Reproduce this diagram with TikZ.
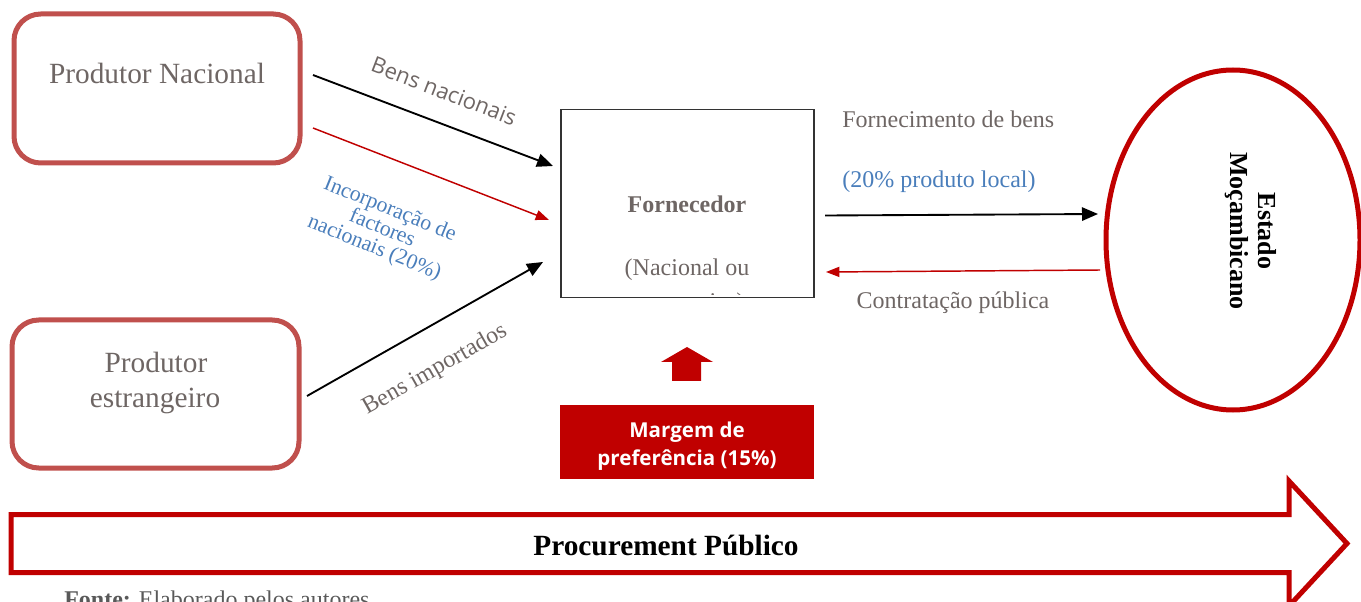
\documentclass[tikz,border=0pt]{standalone}
\usepackage{fontspec}
\setmainfont{Liberation Serif}
\newfontfamily\osans{Open Sans}
\usetikzlibrary{arrows.meta,shapes.geometric}
\definecolor{boxred}{RGB}{192,80,77}
\definecolor{darkred}{RGB}{192,0,0}
\definecolor{txtgray}{RGB}{110,102,100}
\definecolor{txtblue}{RGB}{74,126,187}
\definecolor{fontegray}{RGB}{89,89,89}
\tikzset{
  prodbox/.style={draw=boxred, line width=3.75pt, rounded corners=20pt, inner sep=0pt},
  graytxt/.style={text=txtgray, inner sep=0pt},
  bluetxt/.style={text=txtblue, inner sep=0pt},
  blackconn/.style={draw=black, line width=1.4pt, -{Triangle[length=12pt,width=10pt]}},
  redconn/.style={draw=darkred, line width=1.1pt, -{Triangle[length=10pt,width=7.5pt]}},
}
\begin{document}
\begin{tikzpicture}[x=0.75pt,y=-0.75pt]
\useasboundingbox (0,0) rectangle (1361,602);

% producer boxes
\node[prodbox, minimum width={286*0.75pt}, minimum height={149*0.75pt}] (pn) at (157,88.5) {};
\node[graytxt, anchor=base, font=\fontsize{22pt}{26pt}\selectfont] (pnt) at (157,84) {Produtor Nacional};
\node[prodbox, minimum width={287*0.75pt}, minimum height={148*0.75pt}] (pe) at (155.5,394) {};
\node[graytxt, anchor=base, font=\fontsize{22pt}{26pt}\selectfont] (pet1) at (156,373) {Produtor};
\node[graytxt, anchor=base, font=\fontsize{22pt}{26pt}\selectfont] (pet2) at (155,407) {estrangeiro};

% Fornecedor box
\node[draw=black!80, line width=0.8pt, minimum width={253*0.75pt}, minimum height={188*0.75pt}, inner sep=0pt] (forn) at (687.5,203.5) {};
\node[graytxt, anchor=base, font=\bfseries\fontsize{18pt}{21pt}\selectfont] (fornt) at (687,213) {Fornecedor};
\node[graytxt, anchor=base, font=\fontsize{18pt}{21pt}\selectfont] (fornn) at (687,276) {(Nacional ou};
\begin{scope}
  \clip (563,111) rectangle (812,295);
  \node[graytxt, anchor=base, font=\fontsize{18pt}{21pt}\selectfont] (forne) at (687,310) {estrangeiro)};
\end{scope}

% Estado
\node[draw=darkred, line width=3.75pt, ellipse, minimum width={254*0.75pt}, minimum height={340*0.75pt}, inner sep=0pt] (est) at (1233,240) {};
\node[rotate=-90, align=center, font=\bfseries\fontsize{19.5pt}{21pt}\selectfont, inner sep=0pt] (estt) at (1251,231) {Estado\\Moçambicano};

% connector end points
\coordinate (a1s) at (313,75);   \coordinate (a1e) at (553,166);
\coordinate (a2s) at (313,128);  \coordinate (a2e) at (549,220);
\coordinate (a3s) at (307,396);  \coordinate (a3e) at (543,262);
\coordinate (a4s) at (825,215.5); \coordinate (a4e) at (1098,214);
\coordinate (a5s) at (1100,270); \coordinate (a5e) at (826,272);

\draw[blackconn] (a1s) -- (a1e);
\draw[redconn] (a2s) -- (a2e);
\draw[blackconn] (a3s) -- (a3e);
\draw[blackconn] (a4s) -- (a4e);
\draw[redconn] (a5s) -- (a5e);

% labels
\node[graytxt, rotate=-21, font=\osans\fontsize{16.5pt}{19pt}\selectfont] (lbn) at (444,91) {Bens nacionais};
\node[bluetxt, rotate=-22, align=center, font=\fontsize{16.3pt}{15.5pt}\selectfont] (linc) at (382,229) {Incorporação de\\factores\\nacionais (20\%)};
\node[graytxt, rotate=29.5, font=\fontsize{18pt}{21pt}\selectfont] (lbi) at (435,370) {Bens importados};
\node[graytxt, anchor=base west, font=\fontsize{18pt}{21pt}\selectfont] (lfb) at (842,128) {Fornecimento de bens};
\node[bluetxt, anchor=base west, font=\fontsize{18pt}{21pt}\selectfont] (lpl) at (842,188) {(20\% produto local)};
\node[graytxt, anchor=base, font=\fontsize{18pt}{21pt}\selectfont] (lcp) at (953,309) {Contratação pública};

% preference margin
\fill[darkred] (672,381) -- (672,362) -- (661,362) -- (687,347) -- (713,362) -- (701,362) -- (701,381) -- cycle;
\node[fill=darkred, minimum width={254*0.75pt}, minimum height={74*0.75pt}, inner sep=0pt] (marg) at (687,442) {};
\node[text=white, align=center, inner sep=0pt, font=\osans\bfseries\fontsize{15.4pt}{21.5pt}\selectfont] (margt) at (687,446) {Margem de\\preferência (15\%)};

% big arrow
\draw[darkred, line width=3.75pt, line join=miter] (11,514.5) -- (1289,514.5) -- (1289,481) -- (1347,543.5) -- (1289,606) -- (1289,572.5) -- (11,572.5) -- cycle;
\node[font=\bfseries\fontsize{22pt}{26pt}\selectfont, inner sep=0pt] (proc) at (666,545) {Procurement Público};

% source
\node[anchor=base west, text=fontegray, inner sep=0pt, font=\fontsize{18pt}{21pt}\selectfont] (fonte) at (64,607) {\textbf{Fonte:} Elaborado pelos autores};
\end{tikzpicture}
\end{document}
